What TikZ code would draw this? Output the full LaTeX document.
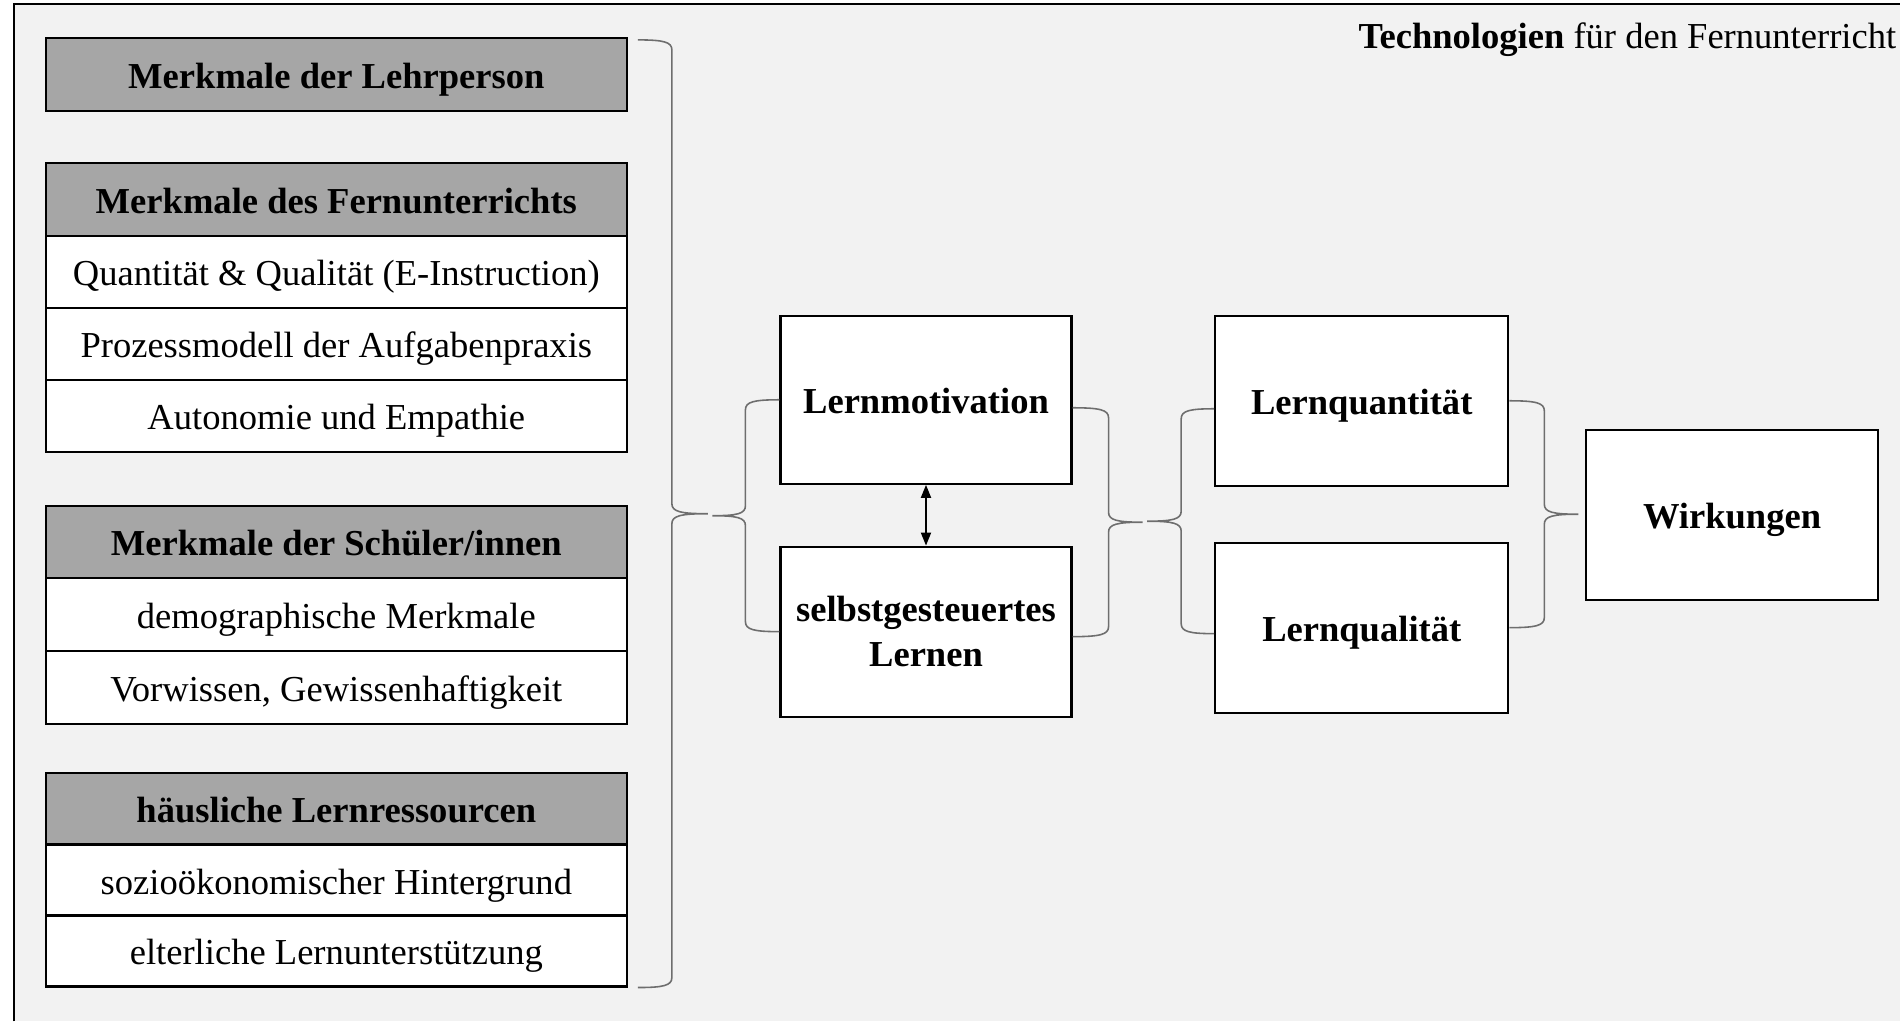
\documentclass[tikz,border=0pt]{standalone}
\usepackage{fontspec}
\setmainfont{Liberation Serif}
\usetikzlibrary{calc,arrows.meta}
\definecolor{bgc}{HTML}{F2F2F2}
\definecolor{hdc}{HTML}{A6A6A6}
\definecolor{brcol}{HTML}{6E6E6E}
\tikzset{
 basefont/.style={font=\fontsize{10.4}{12.8}\selectfont},
 boldfont/.style={font=\fontsize{10.4}{12.8}\selectfont\bfseries},
 cell/.style={basefont, draw=black, line width=0.6pt, fill=white, minimum width=5.81cm, minimum height=0.72cm, inner sep=0pt, text height=0.3cm, text depth=0.02cm},
 head/.style={cell, boldfont, fill=hdc},
 midbox/.style={boldfont, draw=black, line width=0.6pt, fill=white, minimum width=2.92cm, minimum height=1.70cm, inner sep=0pt, align=center},
 onel/.style={text height=0.295cm, text depth=0.02cm},
 brc/.style={draw=brcol, line width=0.45pt},
 arr/.style={line width=0.5pt, {Triangle[length=0.13cm,width=0.1cm]}-{Triangle[length=0.13cm,width=0.1cm]}}
}
\newcommand{\curlyb}[4]{%
 \draw[brc] let \p1=(#1), \p2=(#2), \n1={0.5*(\y1+\y2)} in
 (\x1,\y1) .. controls ({\x1+0.75*(#3)},\y1) and ({\x1+(#3)},{\y1-0.02cm}) .. ({\x1+(#3)},{\y1-0.1cm})
 -- ({\x1+(#3)},{\n1+0.1cm}) .. controls ({\x1+(#3)},{\n1+0.02cm}) and ({\x1+(#3)+0.25*((#4)-(#3))},\n1) .. ({\x1+(#4)},\n1)
 .. controls ({\x1+(#3)+0.25*((#4)-(#3))},\n1) and ({\x1+(#3)},{\n1-0.02cm}) .. ({\x1+(#3)},{\n1-0.1cm})
 -- ({\x1+(#3)},{\y2+0.1cm}) .. controls ({\x1+(#3)},{\y2+0.02cm}) and ({\x2+0.75*(#3)},\y2) .. (\x2,\y2);}
\begin{document}
\begin{tikzpicture}[x=0.01cm,y=-0.01cm]
\fill[white] (0,0) rectangle (1901,1022);
\fill[bgc] (14,4) rectangle (1901,1022);
\draw[line width=0.6pt] (14,1022) -- (14,4) -- (1901,4);
\useasboundingbox (0,0) rectangle (1901,1022);

\node[anchor=base east, inner sep=0pt, basefont] (title) at (1898,49) {\textbf{Technologien} für den Fernunterricht};

\node[head, minimum height=0.73cm] (lp) at (336.5,74.5) {Merkmale der Lehrperson};
\node[head, minimum height=0.73cm] (fu) at (336.5,199.5) {Merkmale des Fernunterrichts};
\node[cell] (fu1) at (336.5,272) {Quantität \& Qualität (E-Instruction)};
\node[cell] (fu2) at (336.5,344) {Prozessmodell der Aufgabenpraxis};
\node[cell] (fu3) at (336.5,416) {Autonomie und Empathie};
\node[head] (sc) at (336.5,542) {Merkmale der Schüler/innen};
\node[cell, minimum height=0.73cm] (sc1) at (336.5,614.5) {demographische Merkmale};
\node[cell, minimum height=0.73cm] (sc2) at (336.5,687.5) {Vorwissen, Gewissenhaftigkeit};
\node[head] (hl) at (336.5,809) {häusliche Lernressourcen};
\node[cell, minimum height=0.71cm] (hl1) at (336.5,880.5) {sozioökonomischer Hintergrund};
\node[cell, minimum height=0.71cm] (hl2) at (336.5,951.5) {elterliche Lernunterstützung};

\node[midbox, onel, minimum width=2.91cm, minimum height=1.68cm] (mot) at (926.5,400) {Lernmotivation};
\node[midbox, minimum width=2.91cm, yshift=-0.02cm] (sel) at (926.5,630) {selbstgesteuertes\\Lernen};
\node[midbox, onel, minimum width=2.93cm] (lqn) at (1362.5,401) {Lernquantität};
\node[midbox, onel, minimum width=2.93cm] (lql) at (1362.5,628) {Lernqualität};
\node[midbox, onel] (wir) at (1733,515) {Wirkungen};

\draw[arr] (mot.south) -- (sel.north);

\coordinate (a1) at ($(lp.north east)+(10,3)$);
\coordinate (a2) at ($(hl2.south east)+(10,0)$);
\curlyb{a1}{a2}{0.34cm}{0.70cm}
\curlyb{mot.west}{sel.west}{-0.34cm}{-0.67cm}
\coordinate (c1) at ($(mot.east)+(0,8)$);
\coordinate (c2) at ($(sel.east)+(0,5)$);
\curlyb{c1}{c2}{0.36cm}{0.70cm}
\coordinate (d1) at ($(lqn.west)+(0,8)$);
\coordinate (d2) at ($(lql.west)+(0,6)$);
\curlyb{d1}{d2}{-0.33cm}{-0.67cm}
\curlyb{lqn.east}{lql.east}{0.35cm}{0.69cm}
\end{tikzpicture}
\end{document}
